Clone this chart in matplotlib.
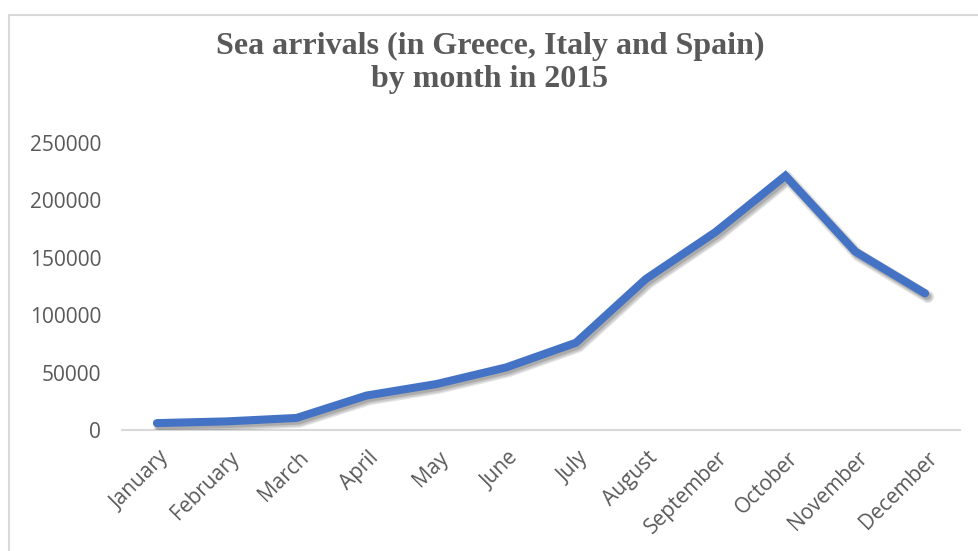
import matplotlib
matplotlib.use("Agg")
import matplotlib.pyplot as plt
import matplotlib.patheffects as pe
import matplotlib.transforms as mtransforms
from matplotlib.patches import Rectangle

months = ['January', 'February', 'March', 'April', 'May', 'June', 'July',
          'August', 'September', 'October', 'November', 'December']
arrivals = [6000, 7500, 10500, 30000, 40000, 54500, 76000,
            131500, 172500, 221500, 155500, 119000]
yticks = [0, 50000, 100000, 150000, 200000, 250000]

W, H = 979, 551
fig = plt.figure(figsize=(W / 100, H / 100), dpi=100)

# light chart-area frame (only top and left edges are visible)
fig.patches.append(Rectangle((9 / W, 0 - 0.05), 1.2, 1 - 15 / H + 0.05,
                             transform=fig.transFigure, fill=False,
                             edgecolor='#d9d9d9', linewidth=1.5))

ax = fig.add_axes([122 / W, 1 - 430 / H, (960 - 122) / W, (430 - 143) / H])
x = list(range(len(months)))

shadow = [pe.SimpleLineShadow(offset=(2.0, -2.5), shadow_color='k', alpha=0.10, linewidth=9),
          pe.SimpleLineShadow(offset=(2.0, -2.5), shadow_color='k', alpha=0.12, linewidth=7),
          pe.SimpleLineShadow(offset=(1.5, -2.0), shadow_color='k', alpha=0.15, linewidth=5.5),
          pe.Normal()]
ax.plot(x, arrivals, color='#4472C4', linewidth=5.8, solid_capstyle='round',
        solid_joinstyle='miter', path_effects=shadow, zorder=3)

ax.set_xlim(-0.5, len(months) - 0.5)
ax.set_ylim(0, 250000)
ax.set_yticks(yticks)
ax.set_yticklabels([str(v) for v in yticks])
ax.set_xticks(x)
ax.set_xticklabels(months, rotation=45, ha='right', va='center',
                   rotation_mode='anchor')

for sp in ['top', 'right', 'left']:
    ax.spines[sp].set_visible(False)
ax.spines['bottom'].set_color('#d9d9d9')
ax.spines['bottom'].set_linewidth(1.5)
ax.tick_params(axis='both', length=0, colors='#595959')
ax.tick_params(axis='y', pad=15, labelsize=15)
ax.tick_params(axis='x', pad=18, labelsize=15)

# nudge the rotated month names a little to the right
shift = mtransforms.ScaledTranslation(9 / 100, 0, fig.dpi_scale_trans)
for lab in ax.get_xticklabels():
    lab.set_transform(lab.get_transform() + shift)
for lab in ax.get_xticklabels() + ax.get_yticklabels():
    lab.set_fontfamily('Open Sans')
    lab.set_color('#595959')

fig.text(490 / W, 1 - 63 / H, 'Sea arrivals (in Greece, Italy and Spain)\nby month in 2015',
         ha='center', va='center', fontsize=23, fontweight='bold',
         family='Liberation Serif', color='#595959', linespacing=1.2)

fig.savefig('out.png', dpi=100)
